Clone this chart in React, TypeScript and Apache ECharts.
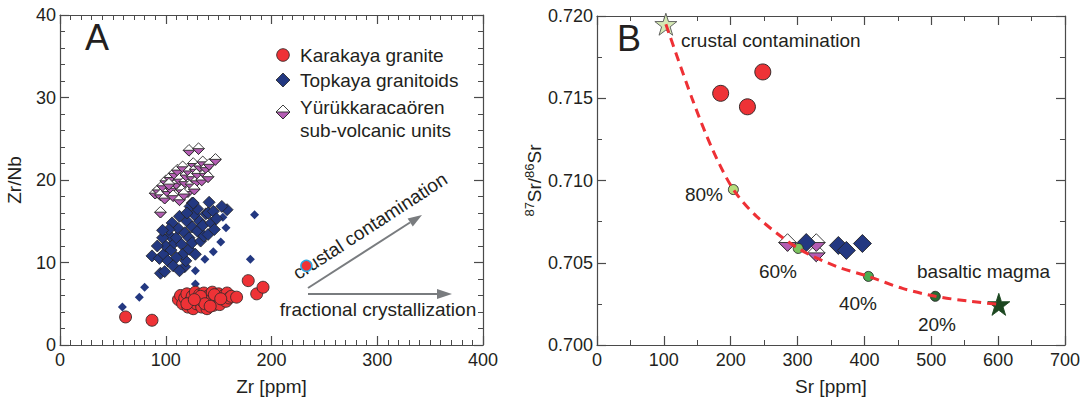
import React, { useEffect, useRef } from "react";
import * as echarts from "echarts";

// ---------- Panel A: Zr [ppm] vs Zr/Nb ----------
const karakayaZrNb: number[][] = [
  [62, 3.4], [87, 3.0],
  [112, 5.5], [114, 6.0], [116, 5.0], [118, 5.7], [120, 6.2], [121, 4.6], [123, 5.3], [125, 5.9],
  [126, 4.4], [128, 6.4], [129, 5.0], [131, 5.6], [132, 6.1], [134, 4.6], [135, 5.3], [136, 6.3],
  [138, 5.8], [139, 4.4], [140, 5.1], [141, 6.0], [143, 5.5], [144, 6.4], [145, 4.8], [147, 5.9],
  [148, 5.2], [150, 6.2], [151, 4.9], [153, 5.6], [155, 6.0], [157, 5.3], [158, 6.3], [160, 5.7],
  [162, 5.9], [120, 5.0], [133, 5.9], [137, 5.0], [146, 6.1], [127, 5.5], [142, 4.7], [152, 5.6],
  [167, 5.8], [178, 7.8], [186, 6.2], [192, 7.0],
];
const karakayaOutlined: number[][] = [[233, 9.6]];

const topkayaSmall: number[][] = [
  [59, 4.6], [75, 5.8], [80, 7.0], [128, 7.4], [128, 9.0], [137, 10.4], [145, 11.3], [152, 12.5],
  [157, 14.2], [180, 10.4], [184, 15.8], [154, 15.5],
];
const topkayaMain: number[][] = [
  [158, 16.4], [153, 16.8], [141, 17.3], [125, 17.2],
  [87, 10.8], [95, 8.7], [99, 8.9], [94, 10.5], [98, 11.0], [102, 10.2], [100, 12.0], [105, 11.5],
  [108, 12.4], [104, 13.2], [110, 13.0], [112, 14.1], [106, 14.8], [115, 12.2], [118, 13.6],
  [120, 15.0], [113, 15.6], [122, 13.0], [125, 14.3], [127, 15.8], [130, 13.8], [132, 15.0],
  [118, 9.5], [119, 10.2], [116, 11.0], [122, 11.6], [125, 12.4], [135, 14.5], [138, 15.9],
  [128, 11.0], [133, 12.6], [140, 16.0], [143, 14.8], [136, 13.2], [110, 10.6], [107, 9.6],
  [113, 9.0], [103, 14.0], [145, 16.2], [148, 15.3], [130, 16.5], [123, 16.8],
  [97, 13.0], [92, 12.0], [120, 16.0], [126, 17.2], [97, 13.9], [140, 13.4], [146, 14.0],
];

const yurukZrNb: number[][] = [
  [95, 16.1], [90, 18.4], [93, 18.8], [95, 18.2], [97, 19.3], [99, 17.8], [100, 19.9], [102, 18.6],
  [104, 20.3], [105, 19.0], [107, 18.1], [108, 20.8], [110, 19.6], [111, 21.2], [113, 17.6],
  [113, 20.1], [115, 18.8], [116, 21.6], [118, 19.8], [119, 20.6], [121, 18.6], [122, 21.1],
  [124, 19.5], [125, 20.4], [126, 22.0], [128, 21.3], [129, 19.9], [130, 20.8], [132, 21.7],
  [134, 20.0], [135, 22.2], [137, 20.8], [138, 21.5], [140, 20.4], [141, 21.9], [147, 22.5],
  [122, 23.6], [131, 23.8], [103, 19.5], [117, 18.3], [127, 18.9],
];

// ---------- Panel B: Sr [ppm] vs 87Sr/86Sr ----------
const srKarakaya: number[][] = [[185, 0.7153], [225, 0.71448], [248, 0.7166]];
const srTopkaya: number[][] = [[313, 0.70623], [361, 0.70605], [373, 0.70575], [397, 0.70617]];
const srYuruk: number[][] = [[328, 0.7056], [285, 0.70623], [328, 0.70623]];

const mixSr = [103, 143, 173, 204, 239, 301, 358, 406, 457, 506, 557, 601];
const mixRatio = [0.7195, 0.7149, 0.71187, 0.70945, 0.70781, 0.70587, 0.70478, 0.70417, 0.70344, 0.70296, 0.70266, 0.70247];

const mixPointSr = [204, 301, 406, 506];
const mixPointRatio = [0.70945, 0.70587, 0.70417, 0.70296];
const mixPointLabels = ["80%", "60%", "40%", "20%"];
const mixPointColors = ["#b6dd7c", "#7cc35e", "#4cad50", "#2b6a34"];

const crustalEnd: number[] = [103, 0.7195];
const basaltEnd: number[] = [601, 0.70247];

const FONT = "'Liberation Sans', Arial, Helvetica, sans-serif";
const TXT = "#231f20";
const AX = "#4a4a4a";
const STAR = "path://M50,0 L61.8,35.3 L99,35.3 L69,57.6 L80.4,93 L50,71.2 L19.6,93 L31,57.6 L1,35.3 L38.2,35.3 Z";

function axis(gridIndex: number, min: number, max: number, interval: number, minorSplit: number,
  position: string, showLabel: boolean, extra: any = {}) {
  return {
    type: "value", gridIndex, min, max, interval, position,
    axisLine: { show: true, onZero: false, lineStyle: { color: AX, width: 1.2 } },
    axisTick: { show: true, inside: true, length: 9, lineStyle: { color: AX, width: 1.2 } },
    minorTick: { show: true, splitNumber: minorSplit, length: 5, lineStyle: { color: AX, width: 1 } },
    splitLine: { show: false },
    minorSplitLine: { show: false },
    axisLabel: { show: showLabel, color: TXT, fontSize: 18, fontFamily: FONT, margin: 6 },
    ...extra,
  };
}

function halfDiamond(half: number) {
  return (params: any, api: any) => {
    const p = api.coord([api.value(0), api.value(1)]);
    const s = half;
    return {
      type: "group",
      children: [
        { type: "polygon", shape: { points: [[p[0], p[1] - s], [p[0] + s, p[1]], [p[0], p[1] + s], [p[0] - s, p[1]]] },
          style: { fill: "#ffffff", stroke: "#2a2a2a", lineWidth: 0.9 } },
        { type: "polygon", shape: { points: [[p[0] - s, p[1]], [p[0] + s, p[1]], [p[0], p[1] + s]] },
          style: { fill: "#b45db3", stroke: "#2a2a2a", lineWidth: 0.9 } },
      ],
    };
  };
}

function txt(text: string, x: number, y: number, size = 19, align = "left", extra: any = {}) {
  return {
    type: "text", x, y, silent: true, ...extra,
    style: { text, fill: TXT, fontSize: size, fontFamily: FONT, textAlign: align, textVerticalAlign: "middle" },
  };
}

export default function App() {
  const ref = useRef<HTMLDivElement>(null);
  useEffect(() => {
    document.body.style.margin = "0";
    const chart = echarts.init(ref.current!, null, { renderer: "svg" });
    const grids = [
      { left: 60, top: 15, width: 423, height: 330 },
      { left: 597, top: 16, width: 469, height: 329 },
    ];
    const arrowColor = "#797c7f";
    const option: any = {
      animation: false,
      backgroundColor: "#ffffff",
      grid: grids,
      xAxis: [
        axis(0, 0, 400, 100, 10, "bottom", true, {
          name: "Zr [ppm]", nameLocation: "middle", nameGap: 32,
          nameTextStyle: { color: TXT, fontSize: 19, fontFamily: FONT },
        }),
        axis(0, 0, 400, 100, 10, "top", false),
        axis(1, 0, 700, 100, 2, "bottom", true, {
          name: "Sr [ppm]", nameLocation: "middle", nameGap: 32,
          nameTextStyle: { color: TXT, fontSize: 19, fontFamily: FONT },
        }),
        axis(1, 0, 700, 100, 2, "top", false),
      ],
      yAxis: [
        axis(0, 0, 40, 10, 5, "left", true, {
          name: "Zr/Nb", nameLocation: "middle", nameGap: 36,
          nameTextStyle: { color: TXT, fontSize: 19, fontFamily: FONT },
          axisLabel: { color: TXT, fontSize: 18, fontFamily: FONT, margin: 4 },
        }),
        axis(0, 0, 40, 10, 5, "right", false),
        axis(1, 0.7, 0.72, 0.005, 2, "left", true, {
          name: "{sup|87}{b|Sr/}{sup|86}{b|Sr}", nameLocation: "middle", nameGap: 50,
          nameTextStyle: {
            color: TXT, fontFamily: FONT,
            rich: {
              b: { fontSize: 19, fontFamily: FONT, color: TXT, lineHeight: 24 },
              sup: { fontSize: 13, fontFamily: FONT, color: TXT, lineHeight: 24, verticalAlign: "top" },
            },
          },
          axisLabel: { color: TXT, fontSize: 18, fontFamily: FONT, margin: 4, formatter: (v: number) => v.toFixed(3) },
        }),
        axis(1, 0.7, 0.72, 0.005, 2, "right", false),
      ],
      series: [
        {
          type: "scatter", name: "Topkaya granitoids", xAxisIndex: 0, yAxisIndex: 0, data: topkayaSmall,
          symbol: "diamond", symbolSize: 9, itemStyle: { color: "#233881", opacity: 1 },
        },
        {
          type: "scatter", name: "Topkaya granitoids", xAxisIndex: 0, yAxisIndex: 0, data: topkayaMain,
          symbol: "diamond", symbolSize: 12, itemStyle: { color: "#233881", borderColor: "#222", borderWidth: 0.8, opacity: 1 },
        },
        {
          type: "custom", name: "Yürükkaracaören sub-volcanic units", xAxisIndex: 0, yAxisIndex: 0,
          data: yurukZrNb, encode: { x: 0, y: 1 }, renderItem: halfDiamond(5.8),
        },
        {
          type: "scatter", name: "Karakaya granite", xAxisIndex: 0, yAxisIndex: 0, data: karakayaZrNb,
          symbol: "circle", symbolSize: 12, itemStyle: { color: "#ee3236", borderColor: "#3a2a2a", borderWidth: 0.9, opacity: 1 },
        },
        {
          type: "scatter", name: "Karakaya granite", xAxisIndex: 0, yAxisIndex: 0, data: karakayaOutlined,
          symbol: "circle", symbolSize: 11, itemStyle: { color: "#ee3236", borderColor: "#2aa7e0", borderWidth: 1.5, opacity: 1 },
        },
        // Panel B
        {
          type: "line", name: "mixing", xAxisIndex: 2, yAxisIndex: 2,
          data: mixSr.map((s, i) => [s, mixRatio[i]]),
          smooth: 0.3, showSymbol: false, symbol: "none",
          lineStyle: { color: "#ee3035", width: 3, type: [9, 6] },
        },
        {
          type: "scatter", name: "Topkaya granitoids", xAxisIndex: 2, yAxisIndex: 2, data: srTopkaya,
          symbol: "diamond", symbolSize: 18, itemStyle: { color: "#233881", borderColor: "#222", borderWidth: 0.9, opacity: 1 },
        },
        {
          type: "custom", name: "Yürükkaracaören sub-volcanic units", xAxisIndex: 2, yAxisIndex: 2,
          data: srYuruk, encode: { x: 0, y: 1 }, renderItem: halfDiamond(8.8),
        },
        {
          type: "scatter", name: "mixing steps", xAxisIndex: 2, yAxisIndex: 2,
          data: mixPointSr.map((s, i) => ({ value: [s, mixPointRatio[i]], itemStyle: { color: mixPointColors[i] } })),
          symbol: "circle", symbolSize: 10, itemStyle: { borderColor: "#2a2a2a", borderWidth: 0.9, opacity: 1 },
        },
        {
          type: "scatter", name: "end members", xAxisIndex: 2, yAxisIndex: 2,
          data: [
            { value: crustalEnd, itemStyle: { color: "#d5e9b4", borderColor: "#555", borderWidth: 0.9 } },
            { value: basaltEnd, itemStyle: { color: "#1c4720", borderColor: "#1c4720", borderWidth: 0.9 } },
          ],
          symbol: STAR, symbolSize: 22, itemStyle: { opacity: 1 },
        },
        {
          type: "scatter", name: "Karakaya granite", xAxisIndex: 2, yAxisIndex: 2, data: srKarakaya,
          symbol: "circle", symbolSize: 16, itemStyle: { color: "#ee3236", borderColor: "#3a2a2a", borderWidth: 1, opacity: 1 },
        },
      ],
      graphic: [
        txt("A", 97, 37, 36, "center"),
        txt("B", 629, 38, 36, "center"),
        // legend panel A
        { type: "circle", shape: { cx: 283, cy: 55, r: 6.3 }, style: { fill: "#ee3236", stroke: "#3a2a2a", lineWidth: 0.9 } },
        txt("Karakaya granite", 300, 55),
        { type: "polygon", shape: { points: [[283, 73], [290, 80], [283, 87], [276, 80]] }, style: { fill: "#233881", stroke: "#222", lineWidth: 0.8 } },
        txt("Topkaya granitoids", 300, 80),
        { type: "polygon", shape: { points: [[283, 105], [290, 112], [283, 119], [276, 112]] }, style: { fill: "#fff", stroke: "#2a2a2a", lineWidth: 0.9 } },
        { type: "polygon", shape: { points: [[276, 112], [290, 112], [283, 119]] }, style: { fill: "#b45db3", stroke: "#2a2a2a", lineWidth: 0.9 } },
        txt("Yürükkaracaören", 300, 107),
        txt("sub-volcanic units", 300, 130),
        // arrows panel A
        { type: "line", shape: { x1: 308, y1: 288, x2: 410, y2: 222.5 }, style: { stroke: arrowColor, lineWidth: 2 } },
        { type: "polygon", shape: { points: [[422, 215], [412.8, 226.5], [407.6, 218.5]] }, style: { fill: arrowColor } },
        { type: "line", shape: { x1: 308, y1: 294, x2: 438, y2: 294 }, style: { stroke: arrowColor, lineWidth: 2 } },
        { type: "polygon", shape: { points: [[452, 294], [437, 289], [437, 299]] }, style: { fill: arrowColor } },
        txt("crustal contamination", 370, 226, 19, "center", { rotation: (33 * Math.PI) / 180 }),
        txt("fractional crystallization", 378, 309, 19, "center"),
        // panel B labels
        txt("crustal contamination", 681, 40),
        txt(mixPointLabels[0], 723, 194, 19, "right"),
        txt(mixPointLabels[1], 778, 271, 19, "center"),
        txt(mixPointLabels[2], 858, 303, 19, "center"),
        txt(mixPointLabels[3], 937, 324, 19, "center"),
        txt("basaltic magma", 917, 271),
      ],
    };
    chart.setOption(option);
    return () => chart.dispose();
  }, []);
  return <div ref={ref} style={{ width: 1083, height: 403 }} />;
}
